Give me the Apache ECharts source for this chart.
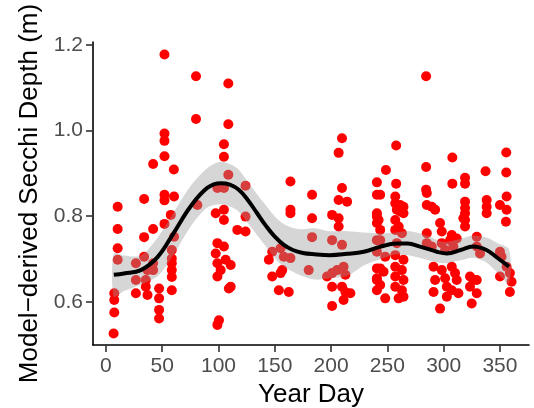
<!DOCTYPE html>
<html><head><meta charset="utf-8">
<script src="https://cdn.jsdelivr.net/npm/echarts@6/dist/echarts.min.js"></script>
<style>html,body{margin:0;padding:0;background:#fff}#c{width:534px;height:408px}</style>
</head><body><div id="c"></div>
<script>
// Observations: [year day, model-derived Secchi depth (m)]
const obs = [
[52,1.178],[80,1.127],[108.7,1.110],[80,1.027],[108.7,1.015],[52,0.993],[52,0.976],[104.8,0.968],[52,0.940],[104.8,0.939],[41.9,0.922],[60.3,0.909],[108.7,0.897],
[10.4,0.822],[33.9,0.840],[52,0.850],[52,0.837],[60.5,0.846],[57.6,0.803],[52,0.782],[41.9,0.770],[10.4,0.770],[33.9,0.751],[10.4,0.725],[10.4,0.698],[60.5,0.752],[58.5,0.721],[58.5,0.701],[58.5,0.690],[58.5,0.674],[58.5,0.658],[58.5,0.627],[41.9,0.690],[41.9,0.674],[33.9,0.705],[36.9,0.674],[35.4,0.651],[35.4,0.635],[36.9,0.616],[26.6,0.690],[26.6,0.651],[26.6,0.620],[47.2,0.631],[47.2,0.608],[47.2,0.581],[47.2,0.561],[7.4,0.620],[7.4,0.604],[7.4,0.575],[6.8,0.526],[100.4,0.557],[99,0.546],[97.5,0.807],[104.8,0.815],[104.8,0.791],[99,0.737],[104.8,0.729],[97.5,0.713],[106.3,0.698],[99,0.690],[101.9,0.674],[99,0.659],[109.2,0.631],[116.7,0.768],[81.2,0.826],[99,0.866],[104.8,0.866],
[209.7,0.982],[206.7,0.948],[163.9,0.881],[209.7,0.866],[240.7,0.879],[124,0.871],
[183.1,0.850],[206.7,0.838],[214.2,0.834],[240.7,0.850],[163.9,0.815],[163.9,0.807],[124,0.799],[183.1,0.795],[200.9,0.803],[206.7,0.795],[206.7,0.776],[124,0.764],[183.1,0.751],[200.9,0.744],[209.7,0.733],[240.7,0.799],[240.7,0.784],[240.7,0.744],[147.7,0.717],[155.1,0.725],[163.9,0.702],[158,0.705],[144.7,0.698],[156.6,0.674],[147.7,0.659],[155.1,0.667],[180.1,0.674],[110.8,0.686],[110.8,0.635],[153.6,0.627],[162.4,0.623],[196.4,0.659],[200.9,0.667],[205.3,0.674],[211.1,0.682],[212.7,0.663],[200.9,0.635],[209.7,0.635],[212.7,0.623],[217.1,0.620],[211.1,0.604],[200.9,0.590],[240.7,0.678],[240.7,0.651],[240.7,0.627],
[284.4,1.127],[257.8,0.965],[248.7,0.908],[307.7,0.937],[284.4,0.915],[355.6,0.949],[257.8,0.876],[307.7,0.876],[319,0.890],[319,0.876],[337.2,0.905],[355.6,0.902],[284.4,0.862],
[243.6,0.850],[257,0.846],[257,0.830],[261.4,0.826],[264.3,0.822],[258.4,0.815],[261.4,0.811],[264.3,0.807],[285,0.854],[285,0.826],[289.4,0.822],[292.4,0.815],[319,0.834],[319,0.819],[319,0.807],[317.5,0.795],[338.2,0.838],[338.2,0.822],[338.2,0.807],[355.9,0.846],[350,0.826],[355.9,0.815],[355.3,0.787],[240.7,0.807],[242.2,0.791],[257,0.791],[260,0.776],[296.8,0.784],[298.3,0.764],[319,0.791],[319,0.776],[285,0.760],[307.2,0.756],[311.6,0.748],[329.4,0.752],[243.6,0.768],[257,0.768],[262.9,0.760],[243.6,0.744],[258.4,0.737],[240.7,0.717],[248.1,0.705],[257,0.709],[264.3,0.698],[285,0.737],[289.4,0.729],[298.3,0.737],[301.3,0.721],[305.7,0.744],[308.6,0.729],[329.4,0.729],[332.3,0.713],[350,0.717],[351.4,0.705],[243.6,0.678],[246.6,0.670],[240.7,0.655],[243.6,0.639],[248.1,0.608],[257,0.682],[262.9,0.674],[257,0.659],[264.3,0.651],[257,0.635],[262.9,0.627],[260,0.608],[264.3,0.612],[291,0.682],[292.4,0.651],[291,0.623],[296.8,0.584],[298.3,0.674],[301.3,0.655],[302.8,0.635],[302.8,0.612],[307.2,0.682],[310.1,0.667],[311.6,0.651],[307.2,0.627],[313.1,0.620],[323.4,0.659],[326.4,0.651],[323.4,0.635],[329.4,0.651],[329.4,0.620],[324.9,0.596],[350,0.659],[358.8,0.667],[360.3,0.647],[358.8,0.623],[355.9,0.682]
];

// Smoothed fit and its confidence band
const fitDays  = [7,16,31,46,60,75,90,102,110,118,126,134,142,150,158,166,175,185,199,214,229,244,258,268,279,294,303,315,326,338,347,358];
const fitVals  = [0.663,0.666,0.674,0.705,0.760,0.822,0.866,0.877,0.874,0.862,0.838,0.808,0.778,0.752,0.733,0.721,0.714,0.711,0.709,0.712,0.717,0.729,0.736,0.736,0.729,0.717,0.713,0.721,0.729,0.721,0.704,0.682];
const bandDays = [7,16,31,46,60,75,90,102,116,126,140,155,170,185,199,214,229,244,258,270,285,300,315,326,338,347,358];
const bandLow  = [0.612,0.625,0.640,0.660,0.710,0.775,0.820,0.828,0.815,0.784,0.736,0.688,0.665,0.652,0.655,0.660,0.685,0.700,0.711,0.708,0.698,0.690,0.697,0.703,0.692,0.670,0.643];
const bandHigh = [0.713,0.708,0.708,0.750,0.808,0.870,0.912,0.927,0.913,0.880,0.832,0.787,0.770,0.772,0.765,0.765,0.762,0.760,0.762,0.765,0.755,0.740,0.747,0.755,0.750,0.738,0.722];

const xTicks = [0,50,100,150,200,250,300,350];
const yTicks = [0.6,0.8,1.0,1.2];

const chart = echarts.init(document.getElementById('c'), null, {renderer:'canvas'});
const font = 'Liberation Sans, Arial, Helvetica, sans-serif';
chart.setOption({
  animation:false,
  backgroundColor:'#ffffff',
  grid:{left:93,right:5,top:42,bottom:63,containLabel:false,outerBoundsMode:'none'},
  xAxis:{
    type:'value', min:-11.5, max:375.8,
    name:'Year Day', nameLocation:'middle', nameGap:36,
    nameTextStyle:{fontFamily:font,fontSize:26,color:'#000'},
    axisLine:{onZero:false,lineStyle:{color:'#000',width:1.6}},
    axisTick:{show:true,length:7,lineStyle:{color:'#333',width:1.6},customValues:xTicks},
    axisLabel:{fontFamily:font,fontSize:21,color:'#4d4d4d',margin:11,customValues:xTicks},
    splitLine:{show:false}
  },
  yAxis:{
    type:'value', min:0.499, max:1.207,
    name:'Model\u2212derived Secchi Depth (m)', nameLocation:'middle', nameGap:47, nameRotate:90,
    nameTextStyle:{fontFamily:font,fontSize:26,color:'#000'},
    axisLine:{onZero:false,lineStyle:{color:'#000',width:1.6}},
    axisTick:{show:true,length:7,lineStyle:{color:'#333',width:1.6},customValues:yTicks},
    axisLabel:{fontFamily:font,fontSize:21,color:'#4d4d4d',margin:10,customValues:yTicks,formatter:v=>v.toFixed(1)},
    splitLine:{show:false}
  },
  series:[
    {type:'scatter', data:obs, symbolSize:10, itemStyle:{color:'#ff0000',opacity:1}, z:2, silent:true},
    {type:'custom', z:3, silent:true, data:[[0,0.6]], clip:true,
     renderItem:function(params, api){
       const pts = [];
       for (let i=0;i<bandDays.length;i++) pts.push(api.coord([bandDays[i], bandHigh[i]]));
       for (let i=bandDays.length-1;i>=0;i--) pts.push(api.coord([bandDays[i], bandLow[i]]));
       return {type:'polygon', shape:{points:pts, smooth:0.3}, style:{fill:'rgba(153,153,153,0.4)'}};
     }},
    {type:'line', data:fitDays.map((d,i)=>[d,fitVals[i]]), smooth:0.4, showSymbol:false, z:4,
     lineStyle:{color:'#000',width:4}, silent:true}
  ]
});
</script></body></html>
